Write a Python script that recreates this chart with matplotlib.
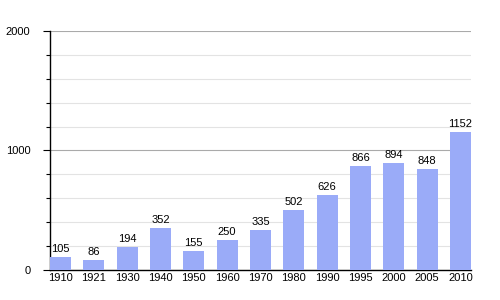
import matplotlib
matplotlib.use("Agg")
import matplotlib.pyplot as plt
import numpy as np

years = ["1910", "1921", "1930", "1940", "1950", "1960", "1970",
         "1980", "1990", "1995", "2000", "2005", "2010"]
population = [105, 86, 194, 352, 155, 250, 335, 502, 626, 866, 894, 848, 1152]

plt.rcParams["font.family"] = ["Liberation Sans", "DejaVu Sans"]

fig = plt.figure(figsize=(5, 3), dpi=100)
ax = fig.add_axes([0.1, 0.1, 0.842, 0.797])

x = np.arange(len(years))
w = 0.63
ax.bar(x, population, width=w, color="#9aabf8", zorder=3)
for xi, v in zip(x, population):
    ax.text(xi, v + 25, str(v), ha="center", va="bottom", fontsize=8, zorder=4)

ax.set_xlim(-w / 2, len(years) - 1 + w / 2)
ax.set_ylim(0, 2000)
ax.set_xticks(x)
ax.set_xticklabels(years, fontsize=8)
ax.set_yticks([0, 1000, 2000])
ax.set_yticklabels(["0", "1000", "2000"], fontsize=8)
ax.set_yticks(np.arange(200, 2000, 200), minor=True)
ax.tick_params(axis="x", length=0, pad=2)
ax.tick_params(axis="y", which="major", length=5, width=0.8, pad=9)
ax.tick_params(axis="y", which="minor", length=3, width=0.8)
ax.grid(axis="y", which="major", color="#aaaaaa", lw=0.8, zorder=0)
ax.grid(axis="y", which="minor", color="#e3e3e3", lw=0.8, zorder=0)
for s in ["top", "right"]:
    ax.spines[s].set_visible(False)
ax.spines["left"].set_linewidth(1.0)
ax.spines["bottom"].set_linewidth(1.0)

fig.savefig("out.png", dpi=100)
